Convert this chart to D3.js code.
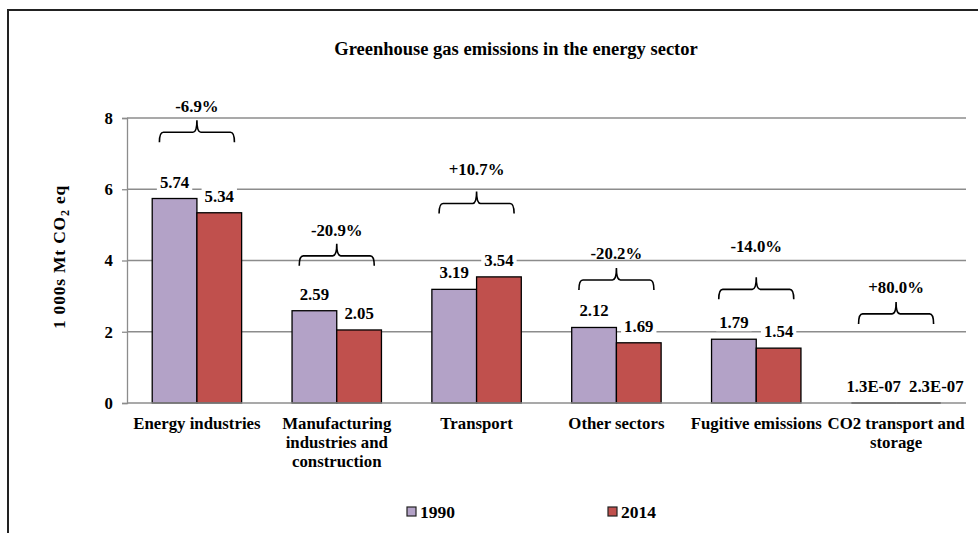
<!DOCTYPE html>
<html>
<head>
<meta charset="utf-8">
<script src="https://cdn.jsdelivr.net/npm/d3@7"></script>
<style>
  body { margin: 0; background: #fff; }
  svg { display: block; font-family: "Liberation Serif", "Times New Roman", serif; font-weight: bold; }
</style>
</head>
<body>
<div id="chart"></div>
<script>
// Données
const categories = ["Energy industries", "Manufacturing\nindustries and\nconstruction", "Transport",
  "Other sectors", "Fugitive emissions", "CO2 transport and\nstorage"];
const series = ["1990", "2014"];
const values1990 = [5.74, 2.59, 3.19, 2.12, 1.79, 1.3e-7];
const values2014 = [5.34, 2.05, 3.54, 1.69, 1.54, 2.3e-7];
const valueLabels1990 = ["5.74", "2.59", "3.19", "2.12", "1.79", "1.3E-07"];
const valueLabels2014 = ["5.34", "2.05", "3.54", "1.69", "1.54", "2.3E-07"];
const changeLabels = ["-6.9%", "-20.9%", "+10.7%", "-20.2%", "-14.0%", "+80.0%"];
// niveau des accolades et des étiquettes de variation (en unités de l'axe)
const braceLevels = [7.32, 3.85, 5.32, 3.17, 2.91, 2.22];
const changeLabelLevels = [8.32, 4.84, 6.56, 4.20, 4.39, 3.24];
const yTicks = [0, 2, 4, 6, 8];

const couleurs = { "1990": "#b3a2c7", "2014": "#c0504d" };

const width = 978, height = 533;
const plotLeft = 127, plotRight = 966, plotTop = 118, plotBottom = 403;
const fs = 16.8; // taille du texte

const svg = d3.select("#chart").append("svg")
  .attr("width", width)
  .attr("height", height);

// cadre
svg.append("path")
  .attr("d", `M8,${height} L8,10 L${width},10`)
  .attr("fill", "none")
  .attr("stroke", "#222")
  .attr("stroke-width", 2);

const x = d3.scaleBand().domain(categories).range([plotLeft, plotRight]).padding(0);
const xs = d3.scaleBand().domain(series).range([0, x.bandwidth()]).paddingInner(0).paddingOuter(0.564);
const y = d3.scaleLinear().domain([0, 8]).range([plotBottom, plotTop]);

// Titre
svg.append("text")
  .attr("x", 516).attr("y", 55)
  .attr("text-anchor", "middle")
  .attr("font-size", 18.5)
  .text("Greenhouse gas emissions in the energy sector");

// grille
svg.append("g")
  .selectAll("line")
  .data(yTicks.filter(d => d > 0))
  .enter().append("line")
  .attr("x1", plotLeft).attr("x2", plotRight)
  .attr("y1", d => y(d)).attr("y2", d => y(d))
  .attr("stroke", "#8c8c8c")
  .attr("stroke-width", 1.3);

// axe Y
const yAxis = svg.append("g")
  .attr("transform", `translate(${plotLeft},0)`)
  .call(d3.axisLeft(y).tickValues(yTicks).tickFormat(d3.format("d")).tickSize(5).tickPadding(9));
yAxis.select(".domain").attr("stroke", "#8c8c8c").attr("stroke-width", 1.3);
yAxis.selectAll(".tick line").attr("stroke", "#8c8c8c").attr("stroke-width", 1.3);
yAxis.selectAll(".tick text")
  .attr("font-family", "Liberation Serif, Times New Roman, serif")
  .attr("font-weight", "bold")
  .attr("font-size", fs)
  .attr("fill", "#000");

// titre axe Y
const yTitle = svg.append("text")
  .attr("transform", "translate(65,257) rotate(-90)")
  .attr("text-anchor", "middle")
  .attr("font-size", 17.5)
  .attr("letter-spacing", 0.8);
yTitle.append("tspan").text("1 000s Mt CO");
yTitle.append("tspan").attr("font-size", 12).attr("dy", 4).text("2");
yTitle.append("tspan").attr("dy", -4).text(" eq");

// Barres
const rows = categories.map((c, i) => ({
  cat: c,
  vals: [
    { s: "1990", v: values1990[i], label: valueLabels1990[i] },
    { s: "2014", v: values2014[i], label: valueLabels2014[i] }
  ]
}));

const groups = svg.append("g").selectAll("g")
  .data(rows)
  .enter().append("g")
  .attr("transform", d => `translate(${x(d.cat)},0)`);

groups.selectAll("rect")
  .data(d => d.vals)
  .enter().append("rect")
  .attr("x", d => xs(d.s))
  .attr("y", d => y(d.v))
  .attr("width", xs.bandwidth())
  .attr("height", d => y(0) - y(d.v))
  .attr("fill", d => couleurs[d.s])
  .attr("stroke", "#000")
  .attr("stroke-width", 1.3);

// axe X (ligne)
svg.append("line")
  .attr("x1", plotLeft).attr("x2", plotRight)
  .attr("y1", plotBottom).attr("y2", plotBottom)
  .attr("stroke", "#8c8c8c")
  .attr("stroke-width", 1.3);

// étiquettes des valeurs, avec fond blanc
const labelLayer = svg.append("g");
rows.forEach(row => {
  let prevRight = -Infinity;
  row.vals.forEach(d => {
    const cx = x(row.cat) + xs(d.s) + xs.bandwidth() / 2;
    const g = labelLayer.append("g");
    const t = g.append("text")
      .attr("y", y(d.v) - 11)
      .attr("text-anchor", "middle")
      .attr("font-size", fs)
      .text(d.label);
    const w = t.node().getComputedTextLength();
    let px = cx;
    if (px - w / 2 < prevRight + 8) px = prevRight + 8 + w / 2;
    prevRight = px + w / 2;
    t.attr("x", px);
    g.insert("rect", "text")
      .attr("x", px - w / 2 - 3)
      .attr("y", y(d.v) - 25)
      .attr("width", w + 6)
      .attr("height", 17)
      .attr("fill", "#fff");
  });
});

// accolades et variations
const braceHalf = 37.5, r = 4, peak = 12, drop = 10;
categories.forEach((c, i) => {
  const cx = x(c) + x.bandwidth() / 2;
  const yEnd = y(braceLevels[i]);
  const yH = yEnd - drop;
  const yP = yH - peak;
  const x0 = cx - braceHalf, x1 = cx + braceHalf;
  const p = d3.path();
  p.moveTo(x0, yEnd);
  p.quadraticCurveTo(x0, yH, x0 + r, yH);
  p.lineTo(cx - r, yH);
  p.quadraticCurveTo(cx, yH, cx, yP);
  p.quadraticCurveTo(cx, yH, cx + r, yH);
  p.lineTo(x1 - r, yH);
  p.quadraticCurveTo(x1, yH, x1, yEnd);
  svg.append("path")
    .attr("d", p.toString())
    .attr("fill", "none")
    .attr("stroke", "#000")
    .attr("stroke-width", 1.6);
  svg.append("text")
    .attr("x", cx)
    .attr("y", y(changeLabelLevels[i]) + 5.5)
    .attr("text-anchor", "middle")
    .attr("font-size", fs)
    .text(changeLabels[i]);
});

// étiquettes des catégories
categories.forEach(c => {
  const t = svg.append("text")
    .attr("x", x(c) + x.bandwidth() / 2)
    .attr("y", 428.5)
    .attr("text-anchor", "middle")
    .attr("font-size", fs);
  c.split("\n").forEach((line, k) => {
    t.append("tspan")
      .attr("x", x(c) + x.bandwidth() / 2)
      .attr("dy", k === 0 ? 0 : 19)
      .text(line);
  });
});

// Légende
const legendX = [407, 608];
series.forEach((s, i) => {
  svg.append("rect")
    .attr("x", legendX[i]).attr("y", 507)
    .attr("width", 9).attr("height", 9)
    .attr("fill", couleurs[s])
    .attr("stroke", "#222")
    .attr("stroke-width", 1.2);
  svg.append("text")
    .attr("x", legendX[i] + 13)
    .attr("y", 517.5)
    .attr("font-size", 17.5)
    .text(s);
});
</script>
</body>
</html>
